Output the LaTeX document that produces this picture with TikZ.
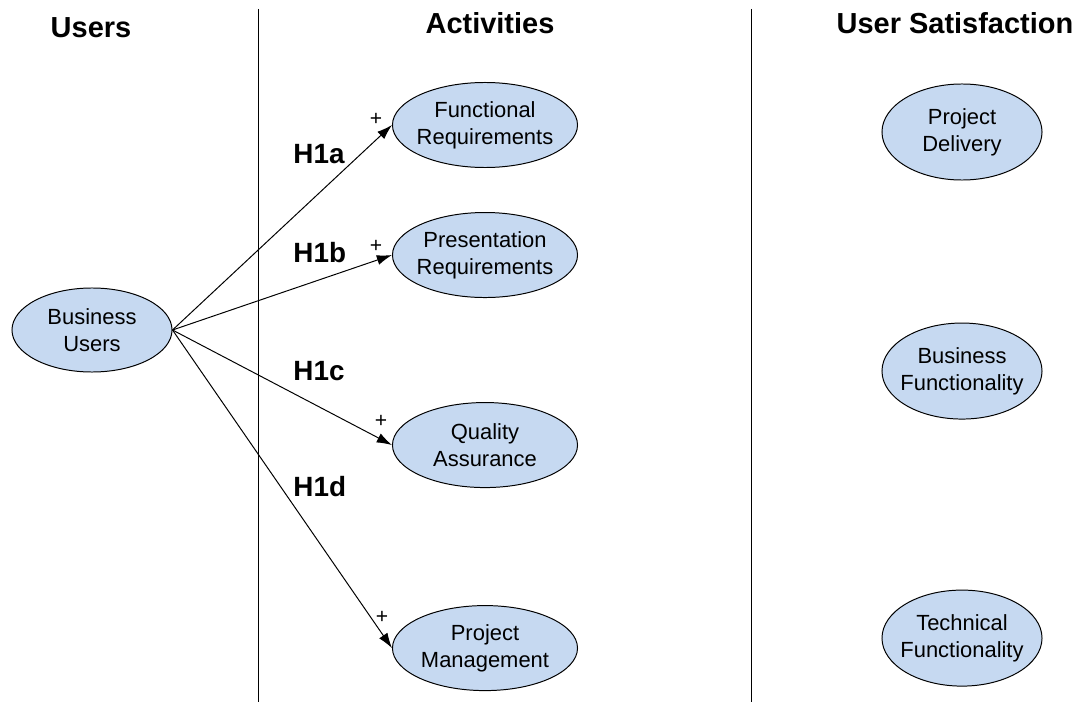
\documentclass[tikz,border=0pt]{standalone}
\usepackage{fontspec}
\setmainfont{Liberation Sans}
\usetikzlibrary{positioning}
\usetikzlibrary{shapes,arrows.meta}
\definecolor{bubblefill}{RGB}{198,217,241}

\begin{document}
\begin{tikzpicture}[x=0.025cm, y=-0.025cm, line width=0.7pt,
    bubble/.style={draw, ellipse, fill=bubblefill, inner sep=0pt},
    activity/.style={bubble, minimum width=4.625cm, minimum height=2.125cm},
    outcome/.style={bubble, minimum width=4cm, minimum height=2.4cm},
    btext/.style={align=center, font=\fontsize{15.6}{19.2}\selectfont},
    heading/.style={font=\fontsize{20.6}{24}\selectfont\bfseries},
    hyp/.style={anchor=west, inner sep=0pt, font=\fontsize{19.8}{23}\selectfont\bfseries},
    sign/.style={inner sep=0pt, font=\fontsize{15}{17}\selectfont},
    link/.style={-{Latex[length=3.8mm,width=2.5mm]}}]
    \useasboundingbox (0,0) rectangle (1080,702);

    % column headings and dividers
    \node [heading] (husers) at (91,28) {Users};
    \node [heading] (hact) at (490,23) {Activities};
    \node [heading] (hsat) at (955,23) {User Satisfaction};
    \draw (258,9) -- (258,702);
    \draw (751,9) -- (751,702);

    \node [bubble, minimum width=4cm, minimum height=2.1cm, label={[btext]center:Business\\Users}] (bu) at (92,330) {};

    \node [activity, label={[btext]center:Functional\\Requirements}] (fr) at (485,125) {};
    \node [activity, label={[btext]center:Presentation\\Requirements}] (pr) [below=1.1cm of fr] {};
    \node [activity, label={[btext]center:Quality\\Assurance}] (qa) [below=2.6cm of pr] {};
    \node [activity, label={[btext]center:Project\\Management}] (pm) [below=2.925cm of qa] {};

    \node [outcome, label={[btext]center:Project\\Delivery}] (pd) at (962,132) {};
    \node [outcome, label={[btext]center:Business\\Functionality}] (bf) [below=3.55cm of pd] {};
    \node [outcome, label={[btext]center:Technical\\Functionality}] (tf) [below=4.25cm of bf] {};

    \draw [link] (bu.east) -- (fr.west);
    \draw [link] (bu.east) -- (pr.west);
    \draw [link] (bu.east) -- (qa.west);
    \draw [link] (bu.east) -- (pm.west);

    \node [hyp] (h1a) at (293,154) {H1a};
    \node [hyp] (h1b) at (293,253) {H1b};
    \node [hyp] (h1c) at (293,371) {H1c};
    \node [hyp] (h1d) at (293,487) {H1d};

    \node [sign] (sfr) at (376,119) {+};
    \node [sign] (spr) at (376,246) {+};
    \node [sign] (sqa) at (381,421) {+};
    \node [sign] (spm) at (382,617) {+};
\end{tikzpicture}
\end{document}
